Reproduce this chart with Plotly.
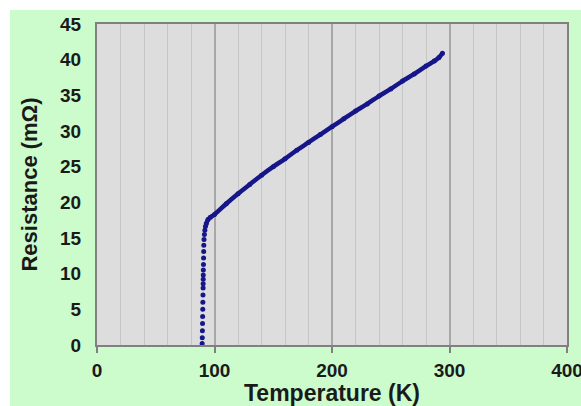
import plotly.graph_objects as go

# Superconducting transition: resistance drops to zero near 90 K
trans_temp = [89.5, 89.6, 89.7, 89.8, 89.9, 90.0, 90.1, 90.2, 90.3, 90.35, 90.4,
              90.45, 90.5, 90.6, 90.7, 90.8, 90.9, 91.1, 91.4, 91.8, 92.3]
trans_res = [0.2, 1.0, 2.0, 3.0, 4.0, 5.0, 6.0, 7.0, 8.0, 8.6, 9.2,
             9.8, 10.5, 11.3, 12.2, 13.1, 14.0, 14.8, 15.5, 16.1, 16.6]

# Normal-state resistance up to room temperature
norm_temp = [93.0, 94.5, 96.5, 100, 110, 120, 130, 140, 150, 160, 170, 180, 190,
             200, 210, 220, 230, 240, 250, 260, 270, 280, 287, 291, 294]
norm_res = [17.0, 17.6, 17.9, 18.3, 19.8, 21.2, 22.5, 23.8, 25.0, 26.1, 27.3, 28.4, 29.5,
            30.6, 31.7, 32.8, 33.8, 34.9, 35.9, 37.0, 38.0, 39.1, 39.8, 40.3, 40.9]

x_ticks = [0, 100, 200, 300, 400]
y_ticks = [0, 5, 10, 15, 20, 25, 30, 35, 40, 45]

navy = "#16168a"
font_family = "Liberation Sans, Arial, sans-serif"

fig = go.Figure()
fig.add_trace(go.Scatter(
    x=trans_temp, y=trans_res, mode="markers",
    marker=dict(color=navy, size=5), showlegend=False,
))
fig.add_trace(go.Scatter(
    x=norm_temp, y=norm_res, mode="lines+markers",
    line=dict(color=navy, width=4.5, shape="spline"),
    marker=dict(color=navy, size=5), showlegend=False,
))

# White strips along the top and left edges of the green panel
fig.add_shape(type="rect", xref="paper", yref="paper",
              x0=-0.3, x1=1.1, y0=1.0436, y1=1.2,
              fillcolor="white", line=dict(width=0), layer="below")
fig.add_shape(type="rect", xref="paper", yref="paper",
              x0=-0.3, x1=-0.1851, y0=-0.3, y1=1.2,
              fillcolor="white", line=dict(width=0), layer="below")

fig.update_layout(
    width=581, height=406,
    margin=dict(l=97, r=14, t=24, b=61),
    paper_bgcolor="#ccfccc",
    plot_bgcolor="#dddddd",
    font=dict(family=font_family, color="#1a1a1a"),
)

fig.update_xaxes(
    range=[0, 400], tickvals=x_ticks,
    ticks="outside", ticklen=6, tickcolor="#808080", tickwidth=1.5,
    tickfont=dict(size=19, family=font_family, weight="bold"),
    ticklabelstandoff=1, ticklabeloverflow="allow",
    showgrid=True, gridcolor="#a8a8a8", gridwidth=1.5,
    minor=dict(dtick=20, showgrid=True, gridcolor="#c6c6c6", gridwidth=1),
    showline=True, linecolor="#808080", linewidth=2, mirror=True,
    zeroline=False, automargin=False,
    title=dict(text="Temperature (K)", standoff=9,
               font=dict(size=23, family=font_family, weight="bold")),
)
fig.update_yaxes(
    range=[0, 45], tickvals=y_ticks,
    tickfont=dict(size=19, family=font_family, weight="bold"),
    ticklabelstandoff=10,
    showgrid=False,
    showline=True, linecolor="#808080", linewidth=2, mirror=True,
    zeroline=False, automargin=False,
    title=dict(text="Resistance (mΩ)", standoff=16,
               font=dict(size=22, family=font_family, weight="bold")),
)

fig.write_html("out.html")
